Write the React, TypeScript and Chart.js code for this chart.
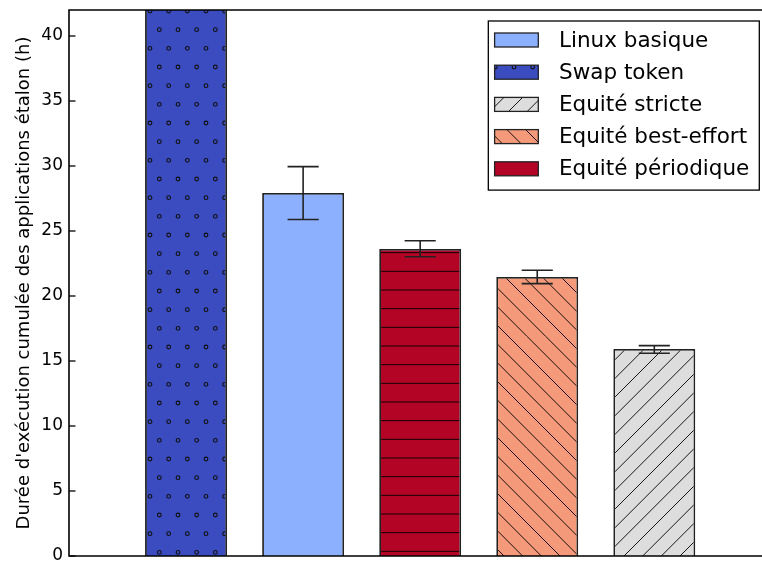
import React, { useEffect, useRef } from "react";
import { Chart, registerables } from "chart.js";

Chart.register(...registerables);

// ---- data ----
const seriesLabels = [
  "Linux basique",
  "Swap token",
  "Equité stricte",
  "Equité best-effort",
  "Equité périodique",
];
const barPositions = [2, 1, 5, 4, 3];
const barValues = [27.92, 58, 15.92, 21.46, 23.62];
const errLow: (number | null)[] = [25.88, null, 15.6, 20.95, 23.02];
const errHigh: (number | null)[] = [29.95, null, 16.18, 21.98, 24.25];
const seriesColors = ["#8db0fe", "#3b4cc0", "#dddddd", "#f49a7b", "#b40426"];
const seriesHatch = ["", "o", "/", "\\", "-"];
const yMin = 0;
const yMax = 42;
const yStep = 5;
const xMin = 0;
const xMax = 5.92;
const yTitle = "Durée d'exécution cumulée des applications étalon (h)";

const FONT = "'DejaVu Sans', sans-serif";
const TILE = 112;
const SP = TILE / 6;

function makePattern(color: string, hatch: string): CanvasPattern | string {
  if (!hatch) return color;
  const c = document.createElement("canvas");
  c.width = TILE;
  c.height = TILE;
  const g = c.getContext("2d")!;
  g.fillStyle = color;
  g.fillRect(0, 0, TILE, TILE);
  g.strokeStyle = "rgba(0,0,0,0.9)";
  g.lineWidth = 1;
  if (hatch === "o") {
    g.lineWidth = 1.1;
    g.strokeStyle = "#111";
    for (let k = -8; k < 16; k++) {
      for (let j = -8; j < 16; j++) {
        const cx = 38 + (Math.abs(k) % 2 === 1 ? SP / 2 : 0) + SP * j;
        const cy = 11 + SP * k;
        if (cx < -5 || cx > TILE + 5 || cy < -5 || cy > TILE + 5) continue;
        g.beginPath();
        g.arc(cx, cy, 1.9, 0, Math.PI * 2);
        g.stroke();
      }
    }
  } else if (hatch === "-") {
    for (let k = 0; k < 6; k++) {
      const y = 10 + SP * k;
      g.beginPath();
      g.moveTo(0, y);
      g.lineTo(TILE, y);
      g.stroke();
    }
  } else if (hatch === "/") {
    for (let k = -7; k < 14; k++) {
      const c0 = SP * k + 4;
      g.beginPath();
      g.moveTo(c0, TILE);
      g.lineTo(c0 + TILE, 0);
      g.stroke();
    }
  } else if (hatch === "\\") {
    for (let k = -7; k < 14; k++) {
      const c0 = SP * k + 4;
      g.beginPath();
      g.moveTo(c0, 0);
      g.lineTo(c0 + TILE, TILE);
      g.stroke();
    }
  }
  return g.createPattern(c, "repeat")!;
}

const overlayPlugin = {
  id: "overlay",
  afterDatasetsDraw(chart: any) {
    const ctx: CanvasRenderingContext2D = chart.ctx;
    const { left, right, top, bottom } = chart.chartArea;
    const ys = chart.scales.y;
    // error bars
    ctx.save();
    ctx.beginPath();
    ctx.rect(left, top, right - left, bottom - top);
    ctx.clip();
    ctx.strokeStyle = "#222";
    ctx.lineWidth = 1.6;
    chart.data.datasets.forEach((_ds: any, i: number) => {
      const lo = errLow[i];
      const hi = errHigh[i];
      if (lo == null || hi == null) return;
      const el = chart.getDatasetMeta(i).data[0];
      const cx = el.x;
      const half = el.width * 0.19;
      const yl = ys.getPixelForValue(lo);
      const yh = ys.getPixelForValue(hi);
      ctx.beginPath();
      ctx.moveTo(cx, yl);
      ctx.lineTo(cx, yh);
      ctx.moveTo(cx - half, yl);
      ctx.lineTo(cx + half, yl);
      ctx.moveTo(cx - half, yh);
      ctx.lineTo(cx + half, yh);
      ctx.stroke();
    });
    ctx.restore();

    // spines
    ctx.save();
    ctx.strokeStyle = "#000";
    ctx.lineWidth = 1.6;
    ctx.beginPath();
    ctx.moveTo(right + 2, top);
    ctx.lineTo(left, top);
    ctx.lineTo(left, bottom);
    ctx.lineTo(right + 2, bottom);
    ctx.stroke();
    // inward ticks
    ctx.lineWidth = 1.3;
    ys.ticks.forEach((t: any) => {
      const py = ys.getPixelForValue(t.value);
      ctx.beginPath();
      ctx.moveTo(left, py);
      ctx.lineTo(left + 6.5, py);
      ctx.stroke();
    });
    ctx.restore();
  },
  afterDraw(chart: any) {
    const ctx: CanvasRenderingContext2D = chart.ctx;
    const { right, top } = chart.chartArea;
    ctx.save();
    ctx.font = `21.5px ${FONT}`;
    const maxW = Math.max(...seriesLabels.map((l) => ctx.measureText(l).width));
    const swW = 43.7;
    const swH = 14;
    const padL = 6.3;
    const gap = 20.7;
    const padR = 10;
    const rowH = 32.2;
    const boxR = right - 2.7;
    const boxW = padL + swW + gap + maxW + padR;
    const boxL = boxR - boxW;
    const boxT = top + 11;
    const boxH = 19 + 4 * rowH + 21.3;
    ctx.fillStyle = "#fff";
    ctx.fillRect(boxL, boxT, boxW, boxH);
    ctx.strokeStyle = "#000";
    ctx.lineWidth = 1.3;
    ctx.strokeRect(boxL, boxT, boxW, boxH);
    chart.data.datasets.forEach((ds: any, i: number) => {
      const cy = boxT + 19 + i * rowH;
      const sx = boxL + padL;
      ctx.fillStyle = ds.backgroundColor;
      ctx.fillRect(sx, cy - swH / 2, swW, swH);
      ctx.strokeStyle = "#222";
      ctx.lineWidth = 1.3;
      ctx.strokeRect(sx, cy - swH / 2, swW, swH);
      ctx.fillStyle = "#000";
      ctx.textBaseline = "middle";
      ctx.textAlign = "left";
      ctx.fillText(ds.label, sx + swW + gap, cy + 1);
    });
    ctx.restore();
  },
};

export default function App() {
  const ref = useRef<HTMLCanvasElement | null>(null);
  useEffect(() => {
    if (!ref.current) return;
    const datasets = seriesLabels.map((label, i) => ({
      label,
      data: [{ x: barPositions[i], y: barValues[i] }],
      backgroundColor: makePattern(seriesColors[i], seriesHatch[i]) as any,
      borderColor: "#222",
      borderWidth: 1.8,
      grouped: false,
      barPercentage: 0.7,
      categoryPercentage: 1.0,
      clip: 0,
    }));
    const chart = new Chart(ref.current, {
      type: "bar",
      data: { datasets } as any,
      options: {
        animation: false,
        responsive: true,
        maintainAspectRatio: false,
        events: [],
        layout: { padding: { top: 10, bottom: 6, left: 0, right: 0 } },
        plugins: { legend: { display: false }, tooltip: { enabled: false } },
        scales: {
          x: {
            type: "linear",
            display: false,
            min: xMin,
            max: xMax,
            offset: false,
            ticks: { stepSize: 1, includeBounds: false },
          },
          y: {
            type: "linear",
            min: yMin,
            max: yMax,
            grid: { display: false, drawTicks: false },
            border: { display: false },
            ticks: {
              stepSize: yStep,
              includeBounds: false,
              padding: 6,
              color: "#000",
              font: { family: FONT, size: 17 },
            },
            title: {
              display: true,
              text: yTitle,
              color: "#000",
              font: { family: FONT, size: 18 },
              padding: { top: 14, bottom: 0 },
            },
            afterFit: (s: any) => {
              s.width = 69;
              s.paddingTop = 0;
              s.paddingBottom = 0;
            },
          },
        },
      } as any,
      plugins: [overlayPlugin],
    });
    return () => chart.destroy();
  }, []);
  return (
    <div style={{ position: "fixed", left: 0, top: 0, width: 762, height: 562, background: "#fff" }}>
      <canvas ref={ref} />
    </div>
  );
}
